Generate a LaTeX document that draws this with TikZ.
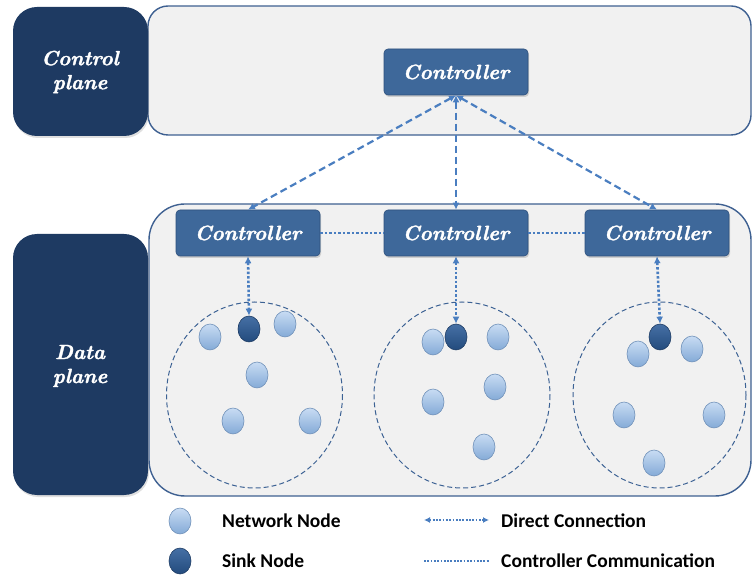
\documentclass[tikz,border=0pt]{standalone}
\usepackage{fontspec}
\newfontfamily\legfont{Carlito}
\newfontfamily\ctrlfont[Extension=.otf, FakeBold=1.6]{lmroman10-bolditalic}
\usetikzlibrary{shapes.geometric,shadows,arrows.meta}
\definecolor{navy}{RGB}{30,58,98}
\definecolor{ctrlblue}{RGB}{62,104,154}
\definecolor{ctrlborder}{RGB}{45,80,125}
\definecolor{bandfill}{RGB}{241,241,241}
\definecolor{bandborder}{RGB}{62,96,145}
\definecolor{arrowblue}{RGB}{74,126,192}
\definecolor{circblue}{RGB}{60,98,148}
\definecolor{nettop}{RGB}{200,220,243}
\definecolor{netbot}{RGB}{132,170,215}
\definecolor{netborder}{RGB}{112,145,185}
\definecolor{sinktop}{RGB}{70,112,165}
\definecolor{sinkbot}{RGB}{35,75,125}
\definecolor{sinkborder}{RGB}{30,60,100}
\tikzset{
  planelabel/.style={fill=navy, rounded corners=24pt, drop shadow={shadow xshift=1pt, shadow yshift=-2pt, opacity=0.25}},
  band/.style={fill=bandfill, draw=bandborder, line width=1.4pt},
  ctrlbox/.style={rectangle, fill=ctrlblue, draw=ctrlborder, line width=0.6pt, rounded corners=4pt,
    minimum width=144pt, minimum height=46pt, inner sep=0pt, text=white,
    font=\ctrlfont\fontsize{20.5}{23}\selectfont,
    drop shadow={shadow xshift=1pt, shadow yshift=-2pt, opacity=0.3}},
  labeltext/.style={text=white, align=center, font=\ctrlfont\fontsize{20.5}{24}\selectfont},
  netnode/.style={ellipse, minimum width=22pt, minimum height=26pt, inner sep=0pt,
    top color=nettop, bottom color=netbot, draw=netborder, line width=0.6pt},
  sinknode/.style={ellipse, minimum width=22pt, minimum height=26pt, inner sep=0pt,
    top color=sinktop, bottom color=sinkbot, draw=sinkborder, line width=0.6pt},
  cluster/.style={draw=circblue, line width=1pt, dash pattern=on 5pt off 3pt},
  uplink/.style={draw=arrowblue, line width=2.2pt, dash pattern=on 7pt off 4pt,
    {Latex[length=7pt,width=7pt]}-{Latex[length=7pt,width=7pt]}},
  direct/.style={draw=arrowblue, line width=2.6pt, dash pattern=on 2.5pt off 2pt,
    {Latex[length=7pt,width=7pt]}-{Latex[length=7pt,width=7pt]}},
  comm/.style={draw=arrowblue, line width=2.4pt, dash pattern=on 2.5pt off 2pt},
  legdirect/.style={draw=arrowblue, line width=1.6pt, dash pattern=on 1.8pt off 1.5pt,
    {Latex[length=6pt,width=6pt]}-{Latex[length=6pt,width=6pt]}},
  legcomm/.style={draw=arrowblue, line width=1.6pt, dash pattern=on 1.8pt off 1.5pt},
  legtext/.style={anchor=west, inner sep=0pt, font=\legfont\fontsize{19.5}{22}\selectfont\bfseries}
}
\begin{document}
\begin{tikzpicture}[x=1pt,y=-1pt]
\useasboundingbox (0,0) rectangle (753,577);
% bands
\draw[band, rounded corners=20pt] (148,6) rectangle (751,135);
\draw[band, rounded corners=36pt] (149,204) rectangle (751,496);
% plane labels
\fill[planelabel] (13,7) rectangle (148,136);
\fill[planelabel] (13,234) rectangle (148,495);
\node[labeltext] (lcp) at (80,72) {Control\\plane};
\node[labeltext] (ldp) at (80,366) {Data\\plane};
% clusters
\draw[cluster] (254.5,395) ellipse [x radius=88, y radius=93];
\draw[cluster] (462,395) ellipse [x radius=88, y radius=93];
\draw[cluster] (659.5,395) ellipse [x radius=86.5, y radius=93];
% controllers
\node[ctrlbox] (ctop) at (456,72) {Controller};
\node[ctrlbox] (c1) at (248,233) {Controller};
\node[ctrlbox] (c2) at (456,233) {Controller};
\node[ctrlbox] (c3) at (657,233) {Controller};
% cluster 1
\node[netnode] (n11) at (210,337) {};
\node[sinknode] (s1) at (249,329) {};
\node[netnode] (n12) at (285,324) {};
\node[netnode] (n13) at (257,375) {};
\node[netnode] (n14) at (233,421) {};
\node[netnode] (n15) at (310,421) {};
% cluster 2
\node[netnode] (n21) at (433,342) {};
\node[sinknode] (s2) at (456,337) {};
\node[netnode] (n22) at (498,337) {};
\node[netnode] (n23) at (495,387) {};
\node[netnode] (n24) at (433,402) {};
\node[netnode] (n25) at (484,447) {};
% cluster 3
\node[sinknode] (s3) at (660,337) {};
\node[netnode] (n31) at (638,354) {};
\node[netnode] (n32) at (692,349) {};
\node[netnode] (n33) at (624,415) {};
\node[netnode] (n34) at (714,415) {};
\node[netnode] (n35) at (654,463) {};
% connectors
\draw[uplink] (ctop.south) -- (c1.north);
\draw[uplink] (ctop.south) -- (c2.north);
\draw[uplink] (ctop.south) -- (c3.north);
\draw[comm] (c1.east) -- (c2.west);
\draw[comm] (c2.east) -- (c3.west);
\draw[direct] (c1.south) -- (s1.north);
\draw[direct] (c2.south) -- (s2.north);
\draw[direct] (c3.south) -- (s3.north);
% legend
\node[netnode] (lnet) at (180,521) {};
\node[sinknode] (lsink) at (180,561) {};
\node[legtext] (tnet) at (222,521) {Network Node};
\node[legtext] (tsink) at (222,561) {Sink Node};
\coordinate (da) at (424,520);
\coordinate (db) at (489,520);
\coordinate (ca) at (424,561);
\coordinate (cb) at (489,561);
\draw[legdirect] (da) -- (db);
\draw[legcomm] (ca) -- (cb);
\node[legtext] (tdir) at (501,521) {Direct Connection};
\node[legtext] (tcomm) at (501,561) {Controller Communication};
\end{tikzpicture}
\end{document}
